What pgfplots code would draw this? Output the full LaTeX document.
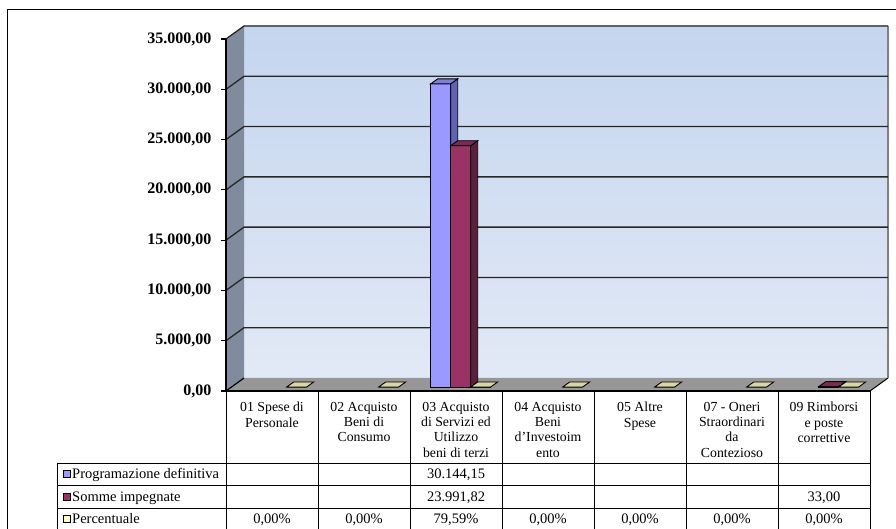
\documentclass[border=0pt]{standalone}
\usepackage{fontspec}
\setmainfont{Liberation Serif}
\usepackage{pgfplots}
\usepackage{pgfplotstable}
\pgfplotsset{compat=1.18}
\definecolor{progF}{HTML}{9999FF}
\definecolor{progS}{HTML}{6262B4}
\definecolor{progT}{HTML}{7E7EDC}
\definecolor{somF}{HTML}{993366}
\definecolor{somS}{HTML}{5E1F3F}
\definecolor{somT}{HTML}{7D2A53}
\definecolor{percF}{HTML}{FFFFCC}
\definecolor{percT}{HTML}{D6D6A6}
\definecolor{wallTop}{HTML}{C4D5EE}
\definecolor{wallBot}{HTML}{E2E9F6}
\definecolor{sideWall}{HTML}{808B9E}
\definecolor{floorC}{HTML}{979797}

\pgfplotstableread{
cat prog somme perc
0 nan nan 0
1 nan nan 0
2 30144.15 23991.82 0.7959
3 nan nan 0
4 nan nan 0
5 nan nan 0
6 nan 33.00 0
}\spese

\begin{document}
\begin{tikzpicture}[x=1pt,y=1pt]
\useasboundingbox (0,0) rectangle (896,528);
% outer frame
\draw[line width=1pt] (7,-5) -- (7,518) -- (900,518);
\begin{axis}[
  at={(226pt,137pt)}, anchor=south west,
  scale only axis, width=644pt, height=352pt,
  xmin=-0.5, xmax=6.5, ymin=0, ymax=35000,
  clip=false,
  axis line style={draw=none},
  xtick=\empty,
  ytick={0,5000,10000,15000,20000,25000,30000,35000},
  ytick pos=left,
  tick align=outside,
  major tick length=5pt,
  ytick style={black, line width=1.2pt},
  scaled y ticks=false,
  yticklabel style={font=\fontsize{16}{16}\selectfont\bfseries, xshift=-6pt},
  /pgf/number format/.cd, fixed, fixed zerofill, precision=2, use comma, 1000 sep={.}, assume math mode=true,
]
% back wall
\addplot[forget plot, draw=none, top color=wallTop, bottom color=wallBot] coordinates {(-0.3043,1293) (6.6957,1293) (6.6957,36293) (-0.3043,36293)} -- cycle;
% side wall
\addplot[forget plot, draw=none, fill=sideWall] coordinates {(-0.5,0) (-0.3043,1293) (-0.3043,36293) (-0.5,35000)} -- cycle;
% floor
\addplot[forget plot, draw=none, fill=floorC] coordinates {(-0.5,0) (6.5,0) (6.6957,1293) (-0.3043,1293)} -- cycle;
\addplot[forget plot, black, line width=1pt] coordinates {(6.5,0) (6.6957,1293)};
\addplot[forget plot, gray, line width=1.6pt] coordinates {(6.6957,1293) (6.6957,36293)};
% grid lines
\addplot[forget plot, black, line width=1.2pt] coordinates {(-0.5,0) (-0.3043,1293)};
\addplot[forget plot, black!85, line width=1.3pt] coordinates {(-0.5,5000) (-0.3043,6293) (6.6957,6293)};
\addplot[forget plot, black!85, line width=1.3pt] coordinates {(-0.5,10000) (-0.3043,11293) (6.6957,11293)};
\addplot[forget plot, black!85, line width=1.3pt] coordinates {(-0.5,15000) (-0.3043,16293) (6.6957,16293)};
\addplot[forget plot, black!85, line width=1.3pt] coordinates {(-0.5,20000) (-0.3043,21293) (6.6957,21293)};
\addplot[forget plot, black!85, line width=1.3pt] coordinates {(-0.5,25000) (-0.3043,26293) (6.6957,26293)};
\addplot[forget plot, black!85, line width=1.3pt] coordinates {(-0.5,30000) (-0.3043,31293) (6.6957,31293)};
\addplot[forget plot, black!85, line width=1.3pt] coordinates {(-0.5,35000) (-0.3043,36293) (6.6957,36293)};
% y axis line
\addplot[forget plot, black, line width=1.3pt] coordinates {(-0.5,0) (-0.5,35000)};
% Programazione definitiva
\addplot[forget plot, ybar, bar width=0.2174, bar shift=-0.1663, yshift=4pt, fill=progF, draw=black, line width=0.9pt] table[x=cat,y=prog]{\spese};
\addplot[forget plot, fill=progS, draw=black, line width=0.9pt] coordinates {(1.9424,398) (2.0185,895) (2.0185,31039.15) (1.9424,30542.15)} -- cycle;
\addplot[forget plot, fill=progT, draw=black, line width=0.9pt] coordinates {(1.725,30542.15) (1.9424,30542.15) (2.0185,31039.15) (1.8011,31039.15)} -- cycle;
% Somme impegnate
\addplot[forget plot, ybar, bar width=0.2174, bar shift=0.0511, yshift=4pt, fill=somF, draw=black, line width=0.9pt] table[x=cat,y=somme]{\spese};
\addplot[forget plot, fill=somS, draw=black, line width=0.9pt] coordinates {(2.1598,398) (2.2359,895) (2.2359,24886.82) (2.1598,24389.82)} -- cycle;
\addplot[forget plot, fill=somT, draw=black, line width=0.9pt] coordinates {(1.9424,24389.82) (2.1598,24389.82) (2.2359,24886.82) (2.0185,24886.82)} -- cycle;
\addplot[forget plot, fill=somT, draw=black, line width=0.9pt] coordinates {(5.9424,431) (6.1598,431) (6.2359,928) (6.0185,928)} -- cycle;
% Percentuale
\addplot[forget plot, ybar, bar width=0.2174, bar shift=0.2685, yshift=4pt, fill=percF, draw=black, line width=0.9pt] table[x=cat,y=perc]{\spese};
\addplot[forget plot, fill=percT, draw=black, line width=0.9pt] coordinates {(0.1598,398) (0.3772,398) (0.4533,895) (0.2359,895)} -- cycle;
\addplot[forget plot, fill=percT, draw=black, line width=0.9pt] coordinates {(1.1598,398) (1.3772,398) (1.4533,895) (1.2359,895)} -- cycle;
\addplot[forget plot, fill=percT, draw=black, line width=0.9pt] coordinates {(2.1598,398) (2.3772,398) (2.4533,895) (2.2359,895)} -- cycle;
\addplot[forget plot, fill=percT, draw=black, line width=0.9pt] coordinates {(3.1598,398) (3.3772,398) (3.4533,895) (3.2359,895)} -- cycle;
\addplot[forget plot, fill=percT, draw=black, line width=0.9pt] coordinates {(4.1598,398) (4.3772,398) (4.4533,895) (4.2359,895)} -- cycle;
\addplot[forget plot, fill=percT, draw=black, line width=0.9pt] coordinates {(5.1598,398) (5.3772,398) (5.4533,895) (5.2359,895)} -- cycle;
\addplot[forget plot, fill=percT, draw=black, line width=0.9pt] coordinates {(6.1598,398) (6.3772,398) (6.4533,895) (6.2359,895)} -- cycle;
\end{axis}
% data table
\draw[line width=1.4pt] (226,137) -- (870,137);
\foreach \xx in {226,318,410,502,594,686,778,870} {\draw[line width=0.9pt] (\xx,137) -- (\xx,-5);}
\draw[line width=0.9pt] (57,65) -- (870,65);
\draw[line width=0.9pt] (57,43) -- (870,43);
\draw[line width=0.9pt] (57,20) -- (870,20);
\draw[line width=0.9pt] (57,-2) -- (870,-2);
\draw[line width=0.9pt] (57,65) -- (57,-5);
\begin{scope}[every node/.style={anchor=north, inner sep=0pt, align=center, font=\fontsize{13.8}{15.3}\selectfont}]
\node at (272,126) {01 Spese di\\Personale};
\node at (364,126) {02 Acquisto\\Beni di\\Consumo};
\node at (456,126) {03 Acquisto\\di Servizi ed\\Utilizzo\\beni di terzi};
\node at (548,126) {04 Acquisto\\Beni\\d'Investoim\\ento};
\node at (640,126) {05 Altre\\Spese};
\node at (732,126) {07 - Oneri\\Straordinari\\da\\Contezioso};
\node at (824,126) {09 Rimborsi\\e poste\\correttive};
\end{scope}
% legend keys
\draw[line width=1pt, fill=progF] (63,51) rectangle (70,58);
\draw[line width=1pt, fill=somF] (63,28) rectangle (70,35);
\draw[line width=1pt, fill=percF] (63,5.5) rectangle (70,12.5);
\begin{scope}[every node/.style={anchor=base west, inner sep=0pt, font=\fontsize{14.5}{14.5}\selectfont}]
\node at (72,50) {Programazione definitiva};
\node at (72,27) {Somme impegnate};
\node at (72,4.5) {Percentuale};
\end{scope}
\begin{scope}[every node/.style={anchor=base, inner sep=0pt, font=\fontsize{14.5}{14.5}\selectfont}]
\node at (456,50) {30.144,15};
\node at (456,27) {23.991,82};
\node at (824,27) {33,00};
\node at (272,4.5) {0,00\%};
\node at (364,4.5) {0,00\%};
\node at (456,4.5) {79,59\%};
\node at (548,4.5) {0,00\%};
\node at (640,4.5) {0,00\%};
\node at (732,4.5) {0,00\%};
\node at (824,4.5) {0,00\%};
\end{scope}
\end{tikzpicture}
\end{document}
